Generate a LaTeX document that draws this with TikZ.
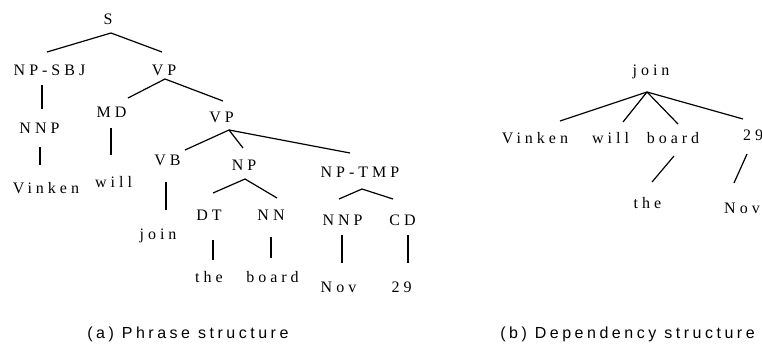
\documentclass[tikz,border=0pt]{standalone}
\usepackage{fontspec}
\usetikzlibrary{calc}
\newfontfamily\treefont{Liberation Serif}[LetterSpace=25]
\newfontfamily\capfont{Liberation Sans}[LetterSpace=22]
\tikzset{
  lab/.style={inner sep=0pt, anchor=base, text height=8pt, text depth=0pt,
    font=\treefont\fontsize{12}{14}\selectfont},
  captxt/.style={inner sep=0pt, anchor=base west, font=\capfont\fontsize{12}{14}\selectfont},
  br/.style={line width=0.9pt}
}
\begin{document}
\begin{tikzpicture}[x=0.75pt,y=-0.75pt]
\useasboundingbox (0,0) rectangle (762,343);
% phrase structure
\node[lab] (S) at (108,24) {S};
\node[lab] (NPSBJ) at (49.5,75) {NP-SBJ};
\node[lab] (VPa) at (164,75) {VP};
\node[lab] (NNPa) at (39.5,133) {NNP};
\node[lab] (Vinkena) at (46,193) {Vinken};
\node[lab] (MD) at (111.5,117) {MD};
\node[lab] (willa) at (113.5,187) {will};
\node[lab] (VPb) at (221.5,122) {VP};
\node[lab] (VB) at (167.5,165) {VB};
\node[lab] (joina) at (158,239) {join};
\node[lab] (NP) at (244,170) {NP};
\node[lab] (DT) at (209,220) {DT};
\node[lab] (NN) at (271,220) {NN};
\node[lab] (thea) at (209,282) {the};
\node[lab] (boarda) at (272.5,282) {board};
\node[lab] (NPTMP) at (360,177) {NP-TMP};
\node[lab] (NNPb) at (342.5,225) {NNP};
\node[lab] (CD) at (402.5,225) {CD};
\node[lab] (Nova) at (338.5,292) {Nov};
\node[lab] (ta) at (401.5,292) {29};
% dependency structure
\node[lab] (joinb) at (651,75) {join};
\node[lab] (Vinkenb) at (535,143) {Vinken};
\node[lab] (willb) at (610.5,143) {will};
\node[lab] (boardb) at (673,143) {board};
\node[lab] (tb) at (753,140) {29};
\node[lab] (theb) at (647.5,208) {the};
\node[lab] (Novb) at (742,213) {Nov};
% captions
\node[captxt] (capa) at (87,338) {(a) Phrase structure};
\node[captxt] (capb) at (500,338) {(b) Dependency structure};
% edges
\draw[br] ($(NPSBJ.base)+(-2.5,-23)$) -- ($(S.base)+(3,9)$) -- ($(VPa.base)+(-2,-23)$);
\draw[br] ($(NPSBJ.base)+(-7.5,10)$) -- ($(NNPa.base)+(2.5,-24)$);
\draw[br] ($(NNPa.base)+(0.5,14)$) -- ($(Vinkena.base)+(-6,-28)$);
\draw[br] ($(MD.base)+(16.5,-19)$) -- ($(VPa.base)+(1,4)$) -- ($(VPb.base)+(1.5,-21)$);
\draw[br] ($(MD.base)+(-0.5,11)$) -- ($(willa.base)+(-2.5,-32)$);
\draw[br] ($(VB.base)+(17.5,-15)$) -- ($(VPb.base)+(7.5,8)$) -- ($(NP.base)+(-1,-22)$);
\draw[br] ($(VPb.base)+(7.5,8)$) -- ($(NPTMP.base)+(-10,-24)$);
\draw[br] ($(VB.base)+(-1.5,17)$) -- ($(joina.base)+(8,-29)$);
\draw[br] ($(DT.base)+(4,-27)$) -- ($(NP.base)+(1,9)$) -- ($(NN.base)+(6,-22)$);
\draw[br] ($(DT.base)+(4,20)$) -- ($(thea.base)+(4,-22)$);
\draw[br] ($(NN.base)+(0,17)$) -- ($(boarda.base)+(-1.5,-24)$);
\draw[br] ($(NNPb.base)+(-3.5,-26)$) -- ($(NPTMP.base)+(2,12)$) -- ($(CD.base)+(-9.5,-26)$);
\draw[br] ($(NNPb.base)+(-0.5,10)$) -- ($(Nova.base)+(3.5,-29)$);
\draw[br] ($(CD.base)+(5.5,10)$) -- ($(ta.base)+(6.5,-29)$);
\draw[br] ($(joinb.base)+(-4,17)$) -- ($(Vinkenb.base)+(25,-22)$);
\draw[br] ($(joinb.base)+(-4,17)$) -- ($(willb.base)+(12.5,-21)$);
\draw[br] ($(joinb.base)+(-4,17)$) -- ($(boardb.base)+(5,-19)$);
\draw[br] ($(joinb.base)+(-4,17)$) -- ($(tb.base)+(-10,-21)$);
\draw[br] ($(boardb.base)+(1,13)$) -- ($(theb.base)+(4.5,-26)$);
\draw[br] ($(tb.base)+(-6,14)$) -- ($(Novb.base)+(-8,-30)$);
\end{tikzpicture}
\end{document}
